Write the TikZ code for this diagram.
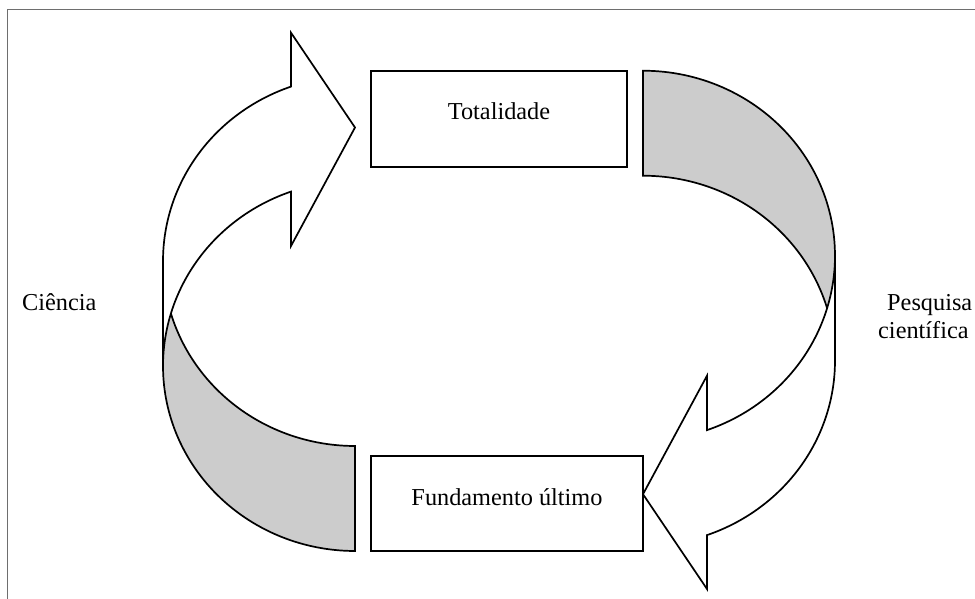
\documentclass[tikz,border=0pt]{standalone}
\usepackage{fontspec}
\setmainfont{Liberation Serif}
\definecolor{backgray}{RGB}{204,204,204}
\definecolor{framegray}{RGB}{110,110,110}
\tikzset{
  outl/.style={draw=black,line width=1.7pt,line join=miter},
  box/.style={draw=black,line width=1.7pt,fill=white,inner sep=0pt,outer sep=0pt},
  lbl/.style={inner sep=0pt,font=\fontsize{24.3}{28}\selectfont},
  curvedarrow/.pic={
    \fill[white] (163,366)
      -- plot[domain=180:250.53,samples=60,variable=\t] ({355+192*cos(\t)},{366+185*sin(\t)})
      -- (291,246) -- (355,127.5) -- (291,32.7)
      -- plot[domain=250.53:180,samples=60,variable=\t] ({355+192*cos(\t)},{261+185*sin(\t)})
      -- cycle;
    \fill[backgray]
      plot[domain=196.49:90,samples=60,variable=\t] ({355+192*cos(\t)},{366+185*sin(\t)})
      -- (355,446)
      -- plot[domain=90:163.51,samples=60,variable=\t] ({355+192*cos(\t)},{261+185*sin(\t)})
      -- cycle;
    \draw[outl] (163,366)
      -- plot[domain=180:250.53,samples=60,variable=\t] ({355+192*cos(\t)},{366+185*sin(\t)})
      -- (291,246) -- (355,127.5) -- (291,32.7)
      -- plot[domain=250.53:180,samples=60,variable=\t] ({355+192*cos(\t)},{261+185*sin(\t)})
      -- (163,366)
      -- plot[domain=180:90,samples=60,variable=\t] ({355+192*cos(\t)},{366+185*sin(\t)})
      -- (355,446)
      -- plot[domain=90:163.51,samples=60,variable=\t] ({355+192*cos(\t)},{261+185*sin(\t)});
  }
}
\begin{document}
\begin{tikzpicture}[x=1pt,y=-1pt]
\useasboundingbox (0,0) rectangle (975,599);
\fill[white] (0,0) rectangle (975,599);
\draw[framegray,line width=1pt] (7,599) -- (7,10) -- (975,10);
\pic at (0,0) {curvedarrow};
\pic[rotate=180] at (998,621.7) {curvedarrow};
\node[box,minimum width=256pt,minimum height=96pt,anchor=north west] (totbox) at (371,71) {};
\node[box,minimum width=272pt,minimum height=95pt,anchor=north west] (fundbox) at (371,456) {};
\node[lbl,anchor=base] (totl) at (499,120) {Totalidade};
\node[lbl,anchor=base] (fundl) at (507,505) {Fundamento último};
\node[lbl,anchor=base west] (ciencia) at (22,310) {Ciência};
\node[lbl,anchor=base west] (pesq) at (887,310) {Pesquisa};
\node[lbl,anchor=base west] (cient) at (878,338) {científica};
\end{tikzpicture}
\end{document}
